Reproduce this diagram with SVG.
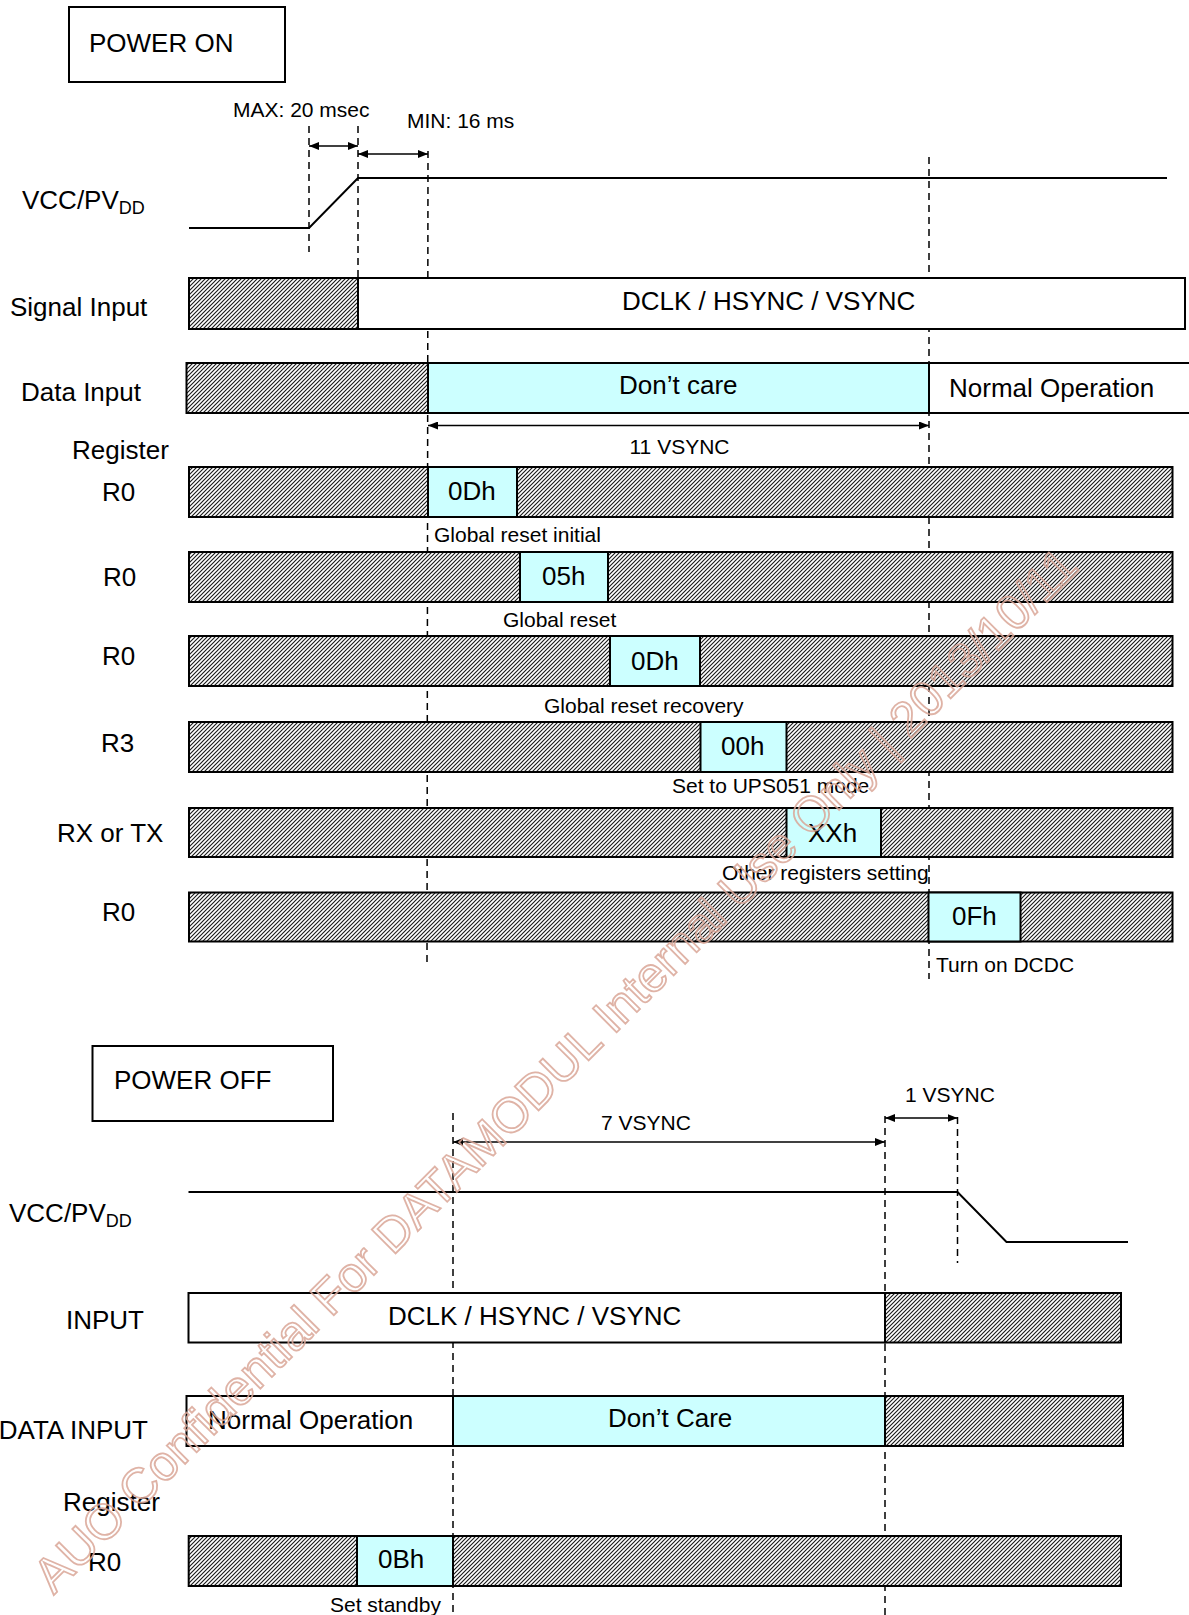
<svg xmlns="http://www.w3.org/2000/svg" width="1189" height="1615" viewBox="0 0 1189 1615">
<style>
text{font-family:"Liberation Sans",Arial,Helvetica,sans-serif;fill:#000}
.lb{font-size:26px}
.sm{font-size:21px}
.box{stroke:#000;stroke-width:2}
.h{fill:url(#hatch)}
.c{fill:#ccffff}
.w{fill:#fff}
.dash{stroke:#000;stroke-width:1.5;stroke-dasharray:7 5;fill:none}
.wave{stroke:#000;stroke-width:2;fill:none}
.arr{stroke:#000;stroke-width:1.6;fill:none;marker-start:url(#ah);marker-end:url(#ah)}
.wm{font-size:49px;fill:none;stroke:#d9a697;stroke-width:1.8;stroke-opacity:0.85}
</style>
<defs>
<pattern id="hatch" patternUnits="userSpaceOnUse" width="4" height="4">
<rect width="4" height="4" fill="#fff"/>
<path d="M-1,1 L1,-1 M0,4 L4,0 M3,5 L5,3" stroke="#1a1a1a" stroke-width="1.15"/>
</pattern>
<marker id="ah" markerUnits="userSpaceOnUse" markerWidth="10" markerHeight="8" refX="10" refY="4" orient="auto-start-reverse">
<path d="M0,0 L10,4 L0,8 z" fill="#000"/>
</marker>
</defs>
<rect width="1189" height="1615" fill="#fff"/>

<!-- connectors: dashed guides and dimension arrows -->
<g id="connectors">
<line class="dash" x1="309" y1="126" x2="309" y2="252"/>
<line class="dash" x1="358" y1="126" x2="358" y2="278"/>
<line class="dash" x1="428" y1="151" x2="427" y2="963"/>
<line class="dash" x1="929" y1="157" x2="929" y2="979"/>
<line class="arr" x1="309" y1="146" x2="358" y2="146"/>
<line class="arr" x1="358" y1="154" x2="428" y2="154"/>
<line class="arr" x1="428" y1="425.5" x2="929" y2="425.5"/>
<line class="dash" x1="453" y1="1113" x2="453" y2="1615"/>
<line class="dash" x1="885" y1="1116" x2="885" y2="1615"/>
<line class="dash" x1="957.5" y1="1117" x2="957.5" y2="1263"/>
<line class="arr" x1="453" y1="1142" x2="885" y2="1142"/>
<line class="arr" x1="885" y1="1118" x2="957.5" y2="1118"/>
</g>

<!-- POWER ON section -->
<g id="power-on-title">
<rect x="69" y="7" width="216" height="75" fill="#fff" class="box"/>
<text class="lb" x="89" y="52">POWER ON</text>
</g>
<g id="max-label"><text class="sm" x="233" y="117">MAX: 20 msec</text></g>
<g id="min-label"><text class="sm" x="407" y="128">MIN: 16 ms</text></g>

<g id="vcc-on">
<text class="lb" x="22" y="209">VCC/PV<tspan font-size="18" dy="5">DD</tspan></text>
<polyline class="wave" points="189,228 309,228 358,178 1167,178"/>
</g>

<g id="signal-input">
<text class="lb" x="10" y="316">Signal Input</text>
<rect x="189" y="278" width="169" height="51" class="box h"/>
<rect x="358" y="278" width="827" height="51" class="box w"/>
<text class="lb" x="622" y="310">DCLK / HSYNC / VSYNC</text>
</g>

<g id="data-input">
<text class="lb" x="21" y="401">Data Input</text>
<rect x="186.5" y="363" width="241.5" height="50" class="box h"/>
<rect x="428" y="363" width="501" height="50" class="box c"/>
<rect x="929" y="363" width="270" height="50" class="box w"/>
<text class="lb" x="619" y="394">Don’t care</text>
<text class="lb" x="949" y="397">Normal Operation</text>
</g>
<g id="vsync11-label"><text class="sm" x="629.5" y="454">11 VSYNC</text></g>

<g id="register-label"><text class="lb" x="72" y="459">Register</text></g>

<g id="row-r0-1">
<text class="lb" x="102" y="501">R0</text>
<rect x="189" y="467" width="983.5" height="50" class="box h"/>
<rect x="428" y="467" width="89" height="50" class="box c"/>
<text class="lb" x="448" y="500">0Dh</text>
<text class="sm" x="434" y="542">Global reset initial</text>
</g>

<g id="row-r0-2">
<text class="lb" x="103" y="586">R0</text>
<rect x="189" y="552" width="983.5" height="50" class="box h"/>
<rect x="520" y="552" width="88" height="50" class="box c"/>
<text class="lb" x="542" y="585">05h</text>
<text class="sm" x="503" y="627">Global reset</text>
</g>

<g id="row-r0-3">
<text class="lb" x="102" y="665">R0</text>
<rect x="189" y="636" width="983.5" height="50" class="box h"/>
<rect x="610" y="636" width="90" height="50" class="box c"/>
<text class="lb" x="631" y="670">0Dh</text>
<text class="sm" x="544" y="713">Global reset recovery</text>
</g>

<g id="row-r3">
<text class="lb" x="101" y="752">R3</text>
<rect x="189" y="722" width="983.5" height="50" class="box h"/>
<rect x="700.5" y="722" width="86" height="50" class="box c"/>
<text class="lb" x="721" y="755">00h</text>
<text class="sm" x="672" y="793">Set to UPS051 mode</text>
</g>

<g id="row-rxtx">
<text class="lb" x="57" y="842">RX or TX</text>
<rect x="189" y="808" width="983.5" height="49" class="box h"/>
<rect x="786.5" y="808" width="94.5" height="49" class="box c"/>
<text class="lb" x="808" y="842">XXh</text>
<text class="sm" x="722" y="880">Other registers setting</text>
</g>

<g id="row-r0-4">
<text class="lb" x="102" y="921">R0</text>
<rect x="189" y="892.5" width="983.5" height="49" class="box h"/>
<rect x="928.5" y="892.5" width="92" height="49" class="box c"/>
<text class="lb" x="952" y="925">0Fh</text>
<text class="sm" x="936" y="972">Turn on DCDC</text>
</g>

<!-- POWER OFF section -->
<g id="power-off-title">
<rect x="92.5" y="1046" width="240.5" height="75" fill="#fff" class="box"/>
<text class="lb" x="114" y="1089">POWER OFF</text>
</g>
<g id="vsync7-label"><text class="sm" x="601" y="1130">7 VSYNC</text></g>
<g id="vsync1-label"><text class="sm" x="905" y="1102">1 VSYNC</text></g>

<g id="vcc-off">
<text class="lb" x="9" y="1222">VCC/PV<tspan font-size="18" dy="5">DD</tspan></text>
<polyline class="wave" points="188.5,1192 957.5,1192 1006.5,1242 1128,1242"/>
</g>

<g id="input">
<text class="lb" x="66" y="1329">INPUT</text>
<rect x="188.5" y="1293" width="696.5" height="49.5" class="box w"/>
<rect x="885" y="1293" width="236" height="49.5" class="box h"/>
<text class="lb" x="388" y="1325">DCLK / HSYNC / VSYNC</text>
</g>

<g id="data-input-off">
<text class="lb" x="148" y="1439" text-anchor="end">DATA INPUT</text>
<rect x="186.5" y="1396" width="266.5" height="50" class="box w"/>
<rect x="453" y="1396" width="432" height="50" class="box c"/>
<rect x="885" y="1396" width="238" height="50" class="box h"/>
<text class="lb" x="208" y="1429">Normal Operation</text>
<text class="lb" x="608" y="1427">Don’t Care</text>
</g>

<g id="register-label-off"><text class="lb" x="63" y="1511">Register</text></g>

<g id="row-r0-off">
<text class="lb" x="88" y="1571">R0</text>
<rect x="188.7" y="1536" width="932.3" height="50" class="box h"/>
<rect x="357" y="1536" width="96" height="50" class="box c"/>
<text class="lb" x="378" y="1568">0Bh</text>
<text class="sm" x="330" y="1612">Set standby</text>
</g>

<!-- watermark -->
<text class="wm" x="567" y="1082" text-anchor="middle" transform="rotate(-45 567 1082)">AUO Confidential For DATAMODUL Internal Use Only | 2013/10/11</text>
</svg>
